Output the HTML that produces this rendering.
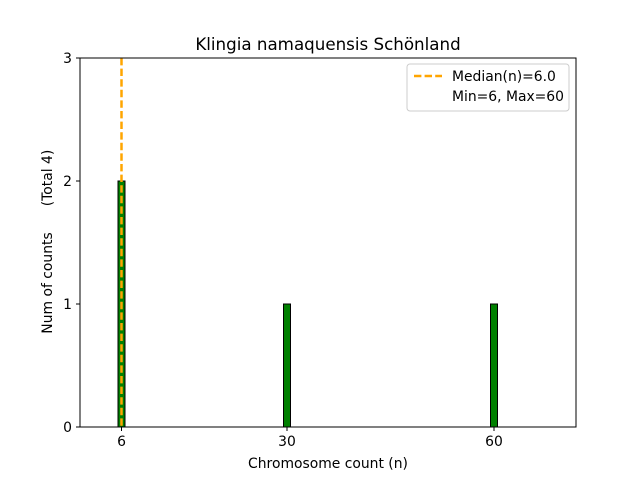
<!DOCTYPE html>
<html><head><meta charset="utf-8"><style>body{margin:0;background:#fff}svg{display:block}</style></head>
<body>
<svg width="640" height="480" xmlns="http://www.w3.org/2000/svg" font-family="'DejaVu Sans', sans-serif">
<rect width="640" height="480" fill="#fff"/>
<g fill="#008000" stroke="#000" stroke-width="1">
<rect x="118" y="181" width="7" height="246"/>
<rect x="283.5" y="304" width="7" height="123"/>
<rect x="490.5" y="304" width="7" height="123"/>
</g>
<line x1="121.5" y1="58" x2="121.5" y2="427" stroke="#ffa500" stroke-width="2.5" stroke-dasharray="7.4,3.2"/>
<rect x="80" y="58" width="496" height="369" fill="none" stroke="#000" stroke-width="1"/>
<g stroke="#000">
<line x1="121.5" y1="427" x2="121.5" y2="431"/>
<line x1="287" y1="427" x2="287" y2="431"/>
<line x1="494" y1="427" x2="494" y2="431"/>
<line x1="76" y1="427" x2="80" y2="427"/>
<line x1="76" y1="304" x2="80" y2="304"/>
<line x1="76" y1="181" x2="80" y2="181"/>
<line x1="76" y1="58" x2="80" y2="58"/>
</g>
<g font-size="13.9" fill="#000">
<text x="121.5" y="446" text-anchor="middle">6</text>
<text x="287" y="446" text-anchor="middle">30</text>
<text x="494" y="446" text-anchor="middle">60</text>
<text x="72" y="432" text-anchor="end">0</text>
<text x="72" y="309" text-anchor="end">1</text>
<text x="72" y="186" text-anchor="end">2</text>
<text x="72" y="63" text-anchor="end">3</text>
<text x="328" y="468" text-anchor="middle">Chromosome count (n)</text>
<text transform="translate(52,283) rotate(-90)" text-anchor="middle">Num of counts</text>
<text transform="translate(52,178) rotate(-90)" text-anchor="middle">(Total 4)</text>
</g>
<text x="328" y="50" font-size="16.7" text-anchor="middle">Klingia namaquensis Schönland</text>
<rect x="407" y="64" width="162" height="47" rx="3" fill="#fff" stroke="#ccc"/>
<line x1="414" y1="76" x2="442" y2="76" stroke="#ffa500" stroke-width="2.5" stroke-dasharray="7.4,3.2"/>
<text x="452" y="81" font-size="13.9">Median(n)=6.0</text>
<text x="452" y="101" font-size="13.9">Min=6, Max=60</text>
</svg>
</body></html>
